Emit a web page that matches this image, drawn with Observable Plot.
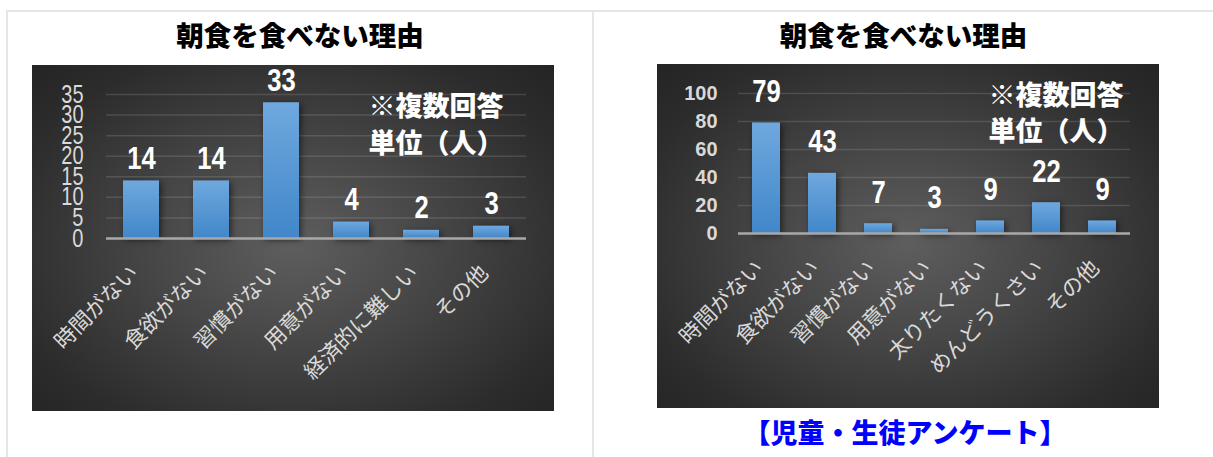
<!DOCTYPE html>
<html>
<head>
<meta charset="utf-8">
<script src="https://cdn.jsdelivr.net/npm/d3@7"></script>
<script src="https://cdn.jsdelivr.net/npm/@observablehq/plot@0.6"></script>
<style>
  html, body { margin: 0; padding: 0; background: #fff; }
  body { width: 1213px; height: 457px; position: relative; overflow: hidden;
         font-family: "Noto Sans CJK JP", "Noto Sans", sans-serif; }
  .line { position: absolute; background: #e6e6e6; }
  .title { position: absolute; font-size: 27.5px; font-weight: 900; line-height: 28px;
           color: #000; text-align: center; white-space: nowrap; }
  .caption { position: absolute; font-size: 27px; font-weight: 900; line-height: 27px;
             color: #0000ff; text-align: center; white-space: nowrap; }
  .chart { position: absolute; }
</style>
</head>
<body>
<div class="line" style="left:6px; top:10px; width:1207px; height:2px;"></div>
<div class="line" style="left:6px; top:10px; width:2px; height:447px;"></div>
<div class="line" style="left:592px; top:10px; width:2px; height:447px;"></div>
<div id="t1" class="title" style="left:6px; width:588px; top:20px;"></div>
<div id="t2" class="title" style="left:594px; width:619px; top:20px;"></div>
<div id="c1" class="chart" style="left:32px; top:65px;"></div>
<div id="c2" class="chart" style="left:657px; top:64px;"></div>
<div id="cap" class="caption" style="left:594px; width:622px; top:418px;"></div>
<script>
// ---- data ----
const titleText = "朝食を食べない理由";
const noteLines = ["※複数回答", "単位（人）"];
const captionText = "【児童・生徒アンケート】";

const leftCategories = ["時間がない", "食欲がない", "習慣がない", "用意がない", "経済的に難しい", "その他"];
const leftValues = [14, 14, 33, 4, 2, 3];
const leftTicks = [0, 5, 10, 15, 20, 25, 30, 35];

const rightCategories = ["時間がない", "食欲がない", "習慣がない", "用意がない", "太りたくない", "めんどうくさい", "その他"];
const rightValues = [79, 43, 7, 3, 9, 22, 9];
const rightTicks = [0, 20, 40, 60, 80, 100];

// ---- chart builder ----
const numFont = '"Liberation Sans", Arial, sans-serif';
const jpFont = '"Noto Sans CJK JP", "Noto Sans", sans-serif';

function squeeze(group, sx) {
  if (!group) return;
  d3.select(group).selectAll("text").each(function () {
    const t = this.getAttribute("transform");
    if (t && t.includes("translate")) {
      this.setAttribute("transform", t + ` scale(${sx},1)`);
    } else {
      const x = +(this.getAttribute("x") || 0), y = +(this.getAttribute("y") || 0);
      this.setAttribute("x", 0); this.setAttribute("y", 0);
      this.setAttribute("transform", `translate(${x},${y}) scale(${sx},1)` + (t ? " " + t : ""));
    }
  });
}

function makeChart(cats, vals, ticks, cfg) {
  const rows = cats.map((c, i) => ({cat: c, value: vals[i]}));
  const gid = cfg.id + "-bar";
  const svg = Plot.plot({
    width: cfg.width,
    height: cfg.height,
    marginLeft: cfg.ml,
    marginRight: cfg.mr,
    marginTop: cfg.mt,
    marginBottom: cfg.mb,
    style: {
      background: "radial-gradient(ellipse farthest-corner at 50% 52%, #5e5e5e 0%, #474747 38%, #2c2c2c 80%, #242424 100%)",
      fontFamily: jpFont,
      overflow: "visible"
    },
    x: {domain: cats, paddingInner: cfg.pi, paddingOuter: cfg.pi / 2, align: 0.5, axis: null},
    y: {domain: [0, ticks[ticks.length - 1]], axis: null},
    marks: [
      Plot.gridY(ticks, {stroke: "#d9d9d9", strokeOpacity: 0.16, strokeWidth: 1.5}),
      Plot.axisY(ticks, {tickSize: 0, tickPadding: cfg.tp, color: "#d9d9d9", label: null,
        fontSize: cfg.tickFont, fontWeight: cfg.tickWeight, fontFamily: numFont}),
      Plot.barY(rows, {x: "cat", y: "value", fill: `url(#${gid})`}),
      Plot.ruleY([0], {stroke: "#a8a8a8", strokeWidth: 2.5}),
      Plot.text(rows, {x: "cat", y: "value", text: d => String(d.value), dy: -cfg.gap,
        lineAnchor: "bottom", fill: "#ffffff", fontSize: 32, fontWeight: "bold", fontFamily: numFont}),
      Plot.text(rows, {x: "cat", frameAnchor: "bottom", text: "cat", rotate: -45,
        textAnchor: "end", lineAnchor: "middle", dx: -7, dy: 31,
        fill: "#d9d9d9", fontSize: 21.5, fontFamily: jpFont}),
      Plot.text([noteLines.join("\n")], {frameAnchor: "top-left", text: d => d,
        textAnchor: "start", lineAnchor: "top", dx: cfg.ndx, dy: cfg.ndy, lineHeight: cfg.nlh,
        fill: "#ffffff", fontSize: 27, fontWeight: 900, fontFamily: jpFont})
    ]
  });
  const s = d3.select(svg);
  const defs = s.insert("defs", ":first-child");
  const lg = defs.append("linearGradient").attr("id", gid)
    .attr("x1", 0).attr("y1", 0).attr("x2", 0).attr("y2", 1);
  lg.append("stop").attr("offset", "0%").attr("stop-color", "#6fa8de");
  lg.append("stop").attr("offset", "100%").attr("stop-color", "#4187c9");
  s.selectAll('g[aria-label="bar"]').style("filter", "drop-shadow(2px 2px 3px rgba(0,0,0,0.55))");
  const textGroups = s.selectAll('g[aria-label="text"]').nodes();
  squeeze(textGroups[0], 0.8);
  squeeze(s.select('g[aria-label="y-axis tick label"]').node(), cfg.tickScale);
  return svg;
}

document.getElementById("t1").textContent = titleText;
document.getElementById("t2").textContent = titleText;
document.getElementById("cap").textContent = captionText;

document.getElementById("c1").appendChild(makeChart(leftCategories, leftValues, leftTicks, {
  id: "left", width: 522, height: 346, ml: 74, mr: 28, mt: 29, mb: 173,
  pi: 0.49, tp: 23, tickFont: 25, tickWeight: "normal", tickScale: 0.8, gap: 12,
  ndx: 262, ndy: -5, nlh: 1.37
}));
document.getElementById("c2").appendChild(makeChart(rightCategories, rightValues, rightTicks, {
  id: "right", width: 502, height: 344, ml: 81, mr: 29, mt: 29, mb: 175,
  pi: 0.5, tp: 21, tickFont: 21, tickWeight: "bold", tickScale: 0.95, gap: 21,
  ndx: 250, ndy: -14, nlh: 1.33
}));
</script>
</body>
</html>
